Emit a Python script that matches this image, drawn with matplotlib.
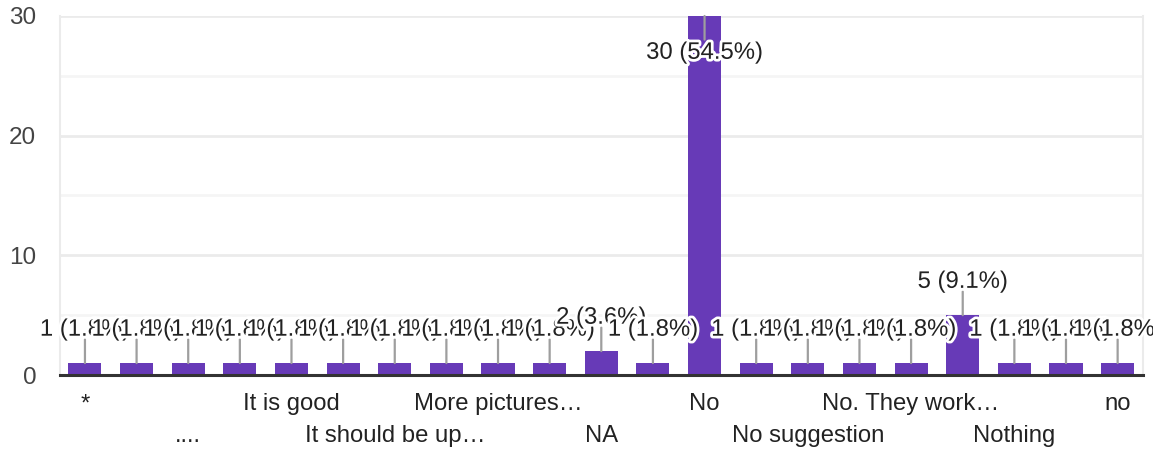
import matplotlib
matplotlib.use('Agg')
import matplotlib.pyplot as plt
import matplotlib.patheffects as pe

# answers (only every other label is shown on the axis)
labels = ['*', '', '....', '', 'It is good', '', 'It should be up\u2026', '',
          'More pictures\u2026', '', 'NA', '', 'No', '', 'No suggestion', '',
          'No. They work\u2026', '', 'Nothing', '', 'no']
counts = [1, 1, 1, 1, 1, 1, 1, 1, 1, 1, 2, 1, 30, 1, 1, 1, 1, 5, 1, 1, 1]
total = sum(counts)

plt.rcParams['font.family'] = ['Liberation Sans', 'DejaVu Sans']

fig = plt.figure(figsize=(11.53, 4.49), dpi=100)
ax = fig.add_axes([0.052, 0.1648, 0.939, 0.7996])

x = list(range(len(counts)))
ax.bar(x, counts, width=0.64, color='#673ab7', zorder=2)

ax.set_xlim(-0.484, len(counts) - 1 + 0.484)
ax.set_ylim(0, 30)
ax.set_yticks([0, 10, 20, 30])
ax.set_yticks([5, 15, 25], minor=True)
ax.grid(axis='y', which='major', color='#ebebeb', lw=2, zorder=0)
ax.grid(axis='y', which='minor', color='#f5f5f5', lw=2, zorder=0)
ax.tick_params(axis='y', which='both', length=0, pad=17, labelsize=17.5, labelcolor='#444444')
ax.set_xticks([])

for s in ['left', 'right', 'top']:
    ax.spines[s].set_color('#ebebeb')
    ax.spines[s].set_linewidth(1.5)
ax.spines['top'].set_visible(False)
ax.spines['bottom'].set_color('#333333')
ax.spines['bottom'].set_linewidth(2.2)
ax.spines['bottom'].set_zorder(3)

halo = [pe.withStroke(linewidth=4, foreground='white')]
for i, v in enumerate(counts):
    txt = f'{v} ({v / total * 100:.1f}%)'
    if v >= 30:
        line_off, text_off = -17, -26.5
    else:
        line_off, text_off = 17, 24
    ax.annotate('', xy=(i, v), xytext=(0, line_off), textcoords='offset points',
                arrowprops=dict(arrowstyle='-', color='#9e9e9e', lw=1.6,
                                shrinkA=0, shrinkB=0),
                annotation_clip=False, zorder=4)
    ax.annotate(txt, xy=(i, v), xytext=(0, text_off), textcoords='offset points',
                ha='center', va='center', fontsize=17.2, color='#222222',
                path_effects=halo, annotation_clip=False, zorder=5)

# category labels on two staggered rows
for i, lab in enumerate(labels):
    if not lab:
        continue
    off = -21 if i % 4 == 0 else -44
    ax.annotate(lab, xy=(i, 0), xycoords=('data', 'axes fraction'),
                xytext=(0, off), textcoords='offset points',
                ha='center', va='center', fontsize=17.2, color='#222222',
                annotation_clip=False)

fig.savefig('out.png', dpi=100)
